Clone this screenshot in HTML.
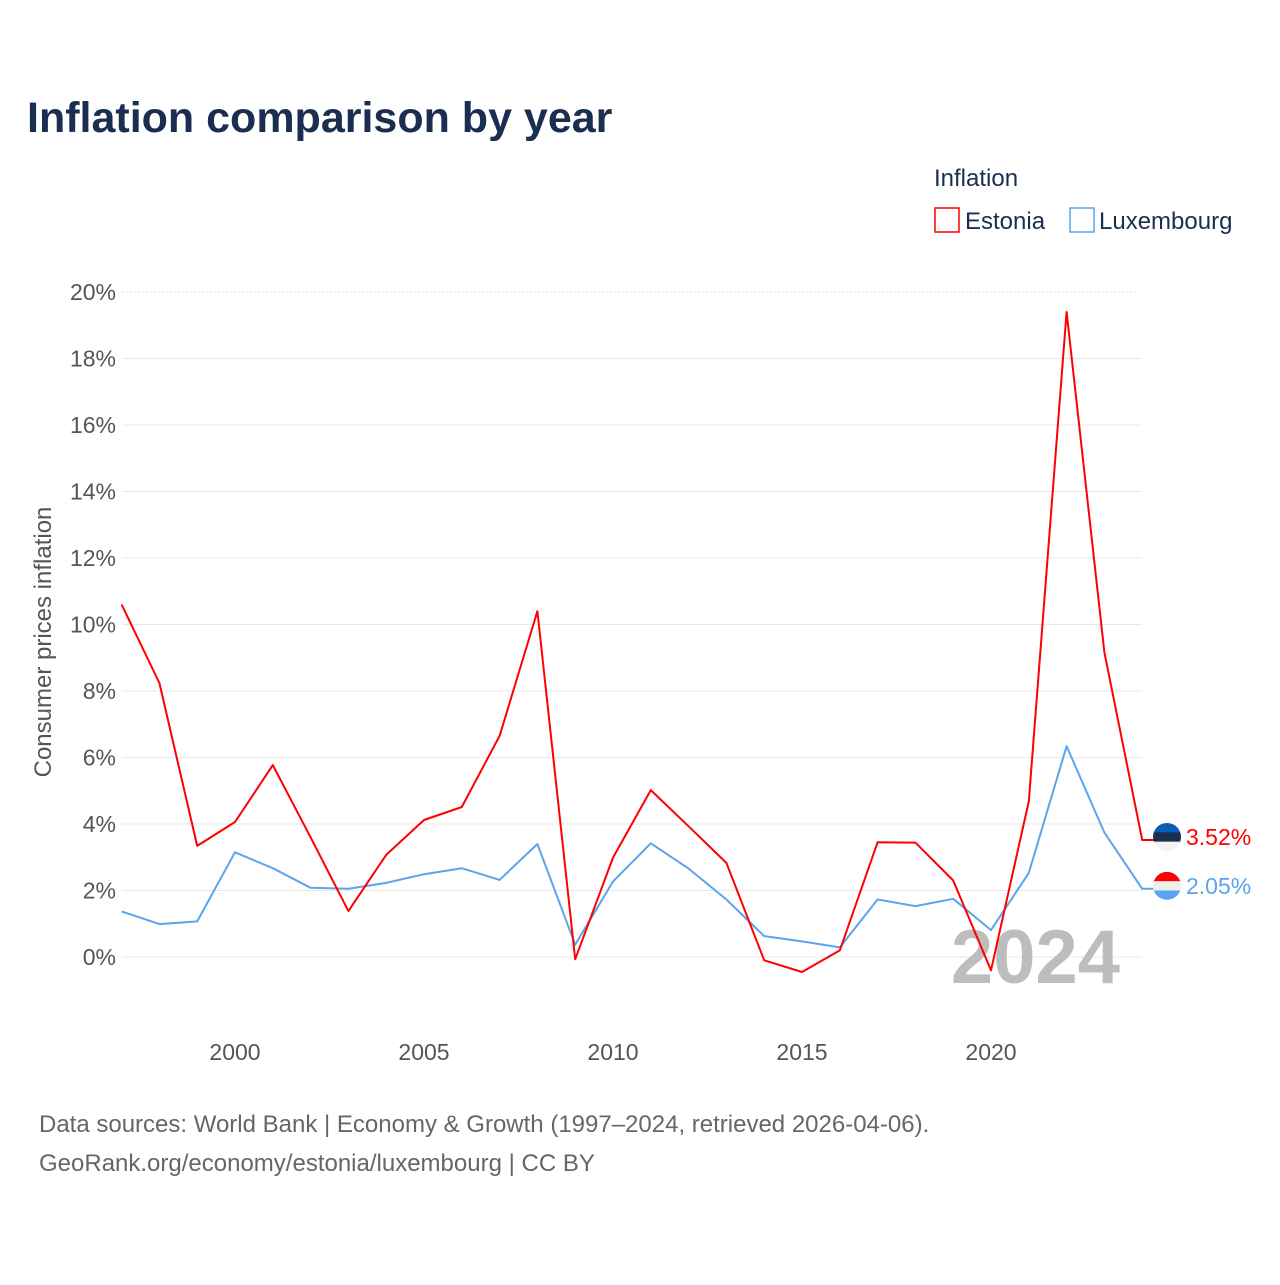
<!DOCTYPE html>
<html><head><meta charset="utf-8"><style>
body{margin:0;background:#fff;font-family:"Liberation Sans",sans-serif}
svg text{font-family:"Liberation Sans",sans-serif}
</style></head><body>
<svg id="chart" width="1280" height="1280" viewBox="0 0 1280 1280">
<text x="27" y="132" font-size="43" font-weight="bold" fill="#1a2e4f">Inflation comparison by year</text>
<text x="934" y="186" font-size="24" fill="#1a2e4f">Inflation</text>
<g><rect x="935" y="208" width="24" height="24" fill="none" stroke="#f00" stroke-width="1.5"/><text x="965" y="229" font-size="24" fill="#1a2e4f">Estonia</text></g>
<g><rect x="1070" y="208" width="24" height="24" fill="none" stroke="#5aa5ee" stroke-width="1.5"/><text x="1099" y="229" font-size="24" fill="#1a2e4f">Luxembourg</text></g>
<g id="grid"></g><g id="yticks"></g><g id="xticks"></g>
<text x="1120" y="983" font-size="76" font-weight="bold" fill="#bdbdbd" text-anchor="end">2024</text>
<text transform="translate(51,642) rotate(-90)" font-size="24" fill="#555" text-anchor="middle">Consumer prices inflation</text>
<g id="series"></g>
<text x="39" y="1132" font-size="24" fill="#666">Data sources: World Bank | Economy &amp; Growth (1997–2024, retrieved 2026-04-06).</text>
<text x="39" y="1171" font-size="24" fill="#666">GeoRank.org/economy/estonia/luxembourg | CC BY</text>
</svg>
<script>
const years=[1997,1998,1999,2000,2001,2002,2003,2004,2005,2006,2007,2008,2009,2010,2011,2012,2013,2014,2015,2016,2017,2018,2019,2020,2021,2022,2023,2024];
const estonia=[10.6,8.24,3.34,4.06,5.77,3.6,1.38,3.07,4.12,4.51,6.65,10.4,-0.07,2.99,5.02,3.93,2.83,-0.1,-0.45,0.2,3.45,3.44,2.3,-0.4,4.68,19.4,9.16,3.52];
const luxembourg=[1.37,0.99,1.07,3.15,2.67,2.08,2.05,2.23,2.49,2.67,2.32,3.4,0.37,2.27,3.42,2.66,1.73,0.63,0.47,0.29,1.73,1.53,1.75,0.81,2.53,6.34,3.74,2.05];
const yTicks=[0,2,4,6,8,10,12,14,16,18,20];
const xTicks=[2000,2005,2010,2015,2020];
const NS="http://www.w3.org/2000/svg";
const xs=y=>235+(y-2000)*37.8;
const ys=v=>957-v*33.25;
function mk(tag,attrs,parent,txt){const e=document.createElementNS(NS,tag);for(const k in attrs)e.setAttribute(k,attrs[k]);if(txt!==undefined)e.textContent=txt;document.getElementById(parent).appendChild(e);return e;}
yTicks.forEach(t=>{
 const l=mk('line',{x1:122,x2:1142,y1:ys(t),y2:ys(t),stroke:t==20?'#e6e6e6':'#e8e8e8','stroke-width':1,'stroke-dasharray':t==20?'2,2':''},'grid');
 
 
 const tx=mk('text',{x:116,y:ys(t)+8,'font-size':23,fill:'#555','text-anchor':'end'},'yticks',t+'%');
 
 
});
xTicks.forEach(t=>{
 const tx=mk('text',{x:xs(t),y:1060,'font-size':23,fill:'#555','text-anchor':'middle'},'xticks',t);
 
 
});
function line(vals,color,name){
 let d=vals.map((v,i)=>(i?'L':'M')+xs(years[i]).toFixed(1)+','+ys(v).toFixed(1)).join(' ');
 d+=' L'+(xs(2024)+14)+','+ys(vals[vals.length-1]).toFixed(1);
 const p=mk('path',{d:d,fill:'none',stroke:color,'stroke-width':2,'stroke-linejoin':'round'},'series');
 
 
}
line(luxembourg,'#5aa5ee','luxembourg');
line(estonia,'#f00','estonia');
function endLabel(v,color,name,flag){
 const cy=ys(v)-3, cx=1167;
 const g=mk('g',{},'series');
 
 
 const cp=mk('clipPath',{id:'c'+name},'series');
 const c=document.createElementNS(NS,'circle');c.setAttribute('cx',cx);c.setAttribute('cy',cy);c.setAttribute('r',14);cp.appendChild(c);
 flag.forEach((col,i)=>{const r=document.createElementNS(NS,'rect');r.setAttribute('x',cx-14);r.setAttribute('y',cy-14+i*28/3);r.setAttribute('width',28);r.setAttribute('height',28/3+0.5);r.setAttribute('fill',col);r.setAttribute('clip-path','url(#c'+name+')');g.appendChild(r);});
 const t=mk('text',{x:1186,y:cy+8,'font-size':23,fill:color},'series',v.toFixed(2)+'%');
 
 
}
endLabel(estonia[estonia.length-1],'#f00','estonia',['#0a5cb8','#1a2e4f','#f2f2f2']);
endLabel(luxembourg[luxembourg.length-1],'#5aa5ee','luxembourg',['#f00','#eeeeee','#5aa5ee']);
</script>
</body></html>
